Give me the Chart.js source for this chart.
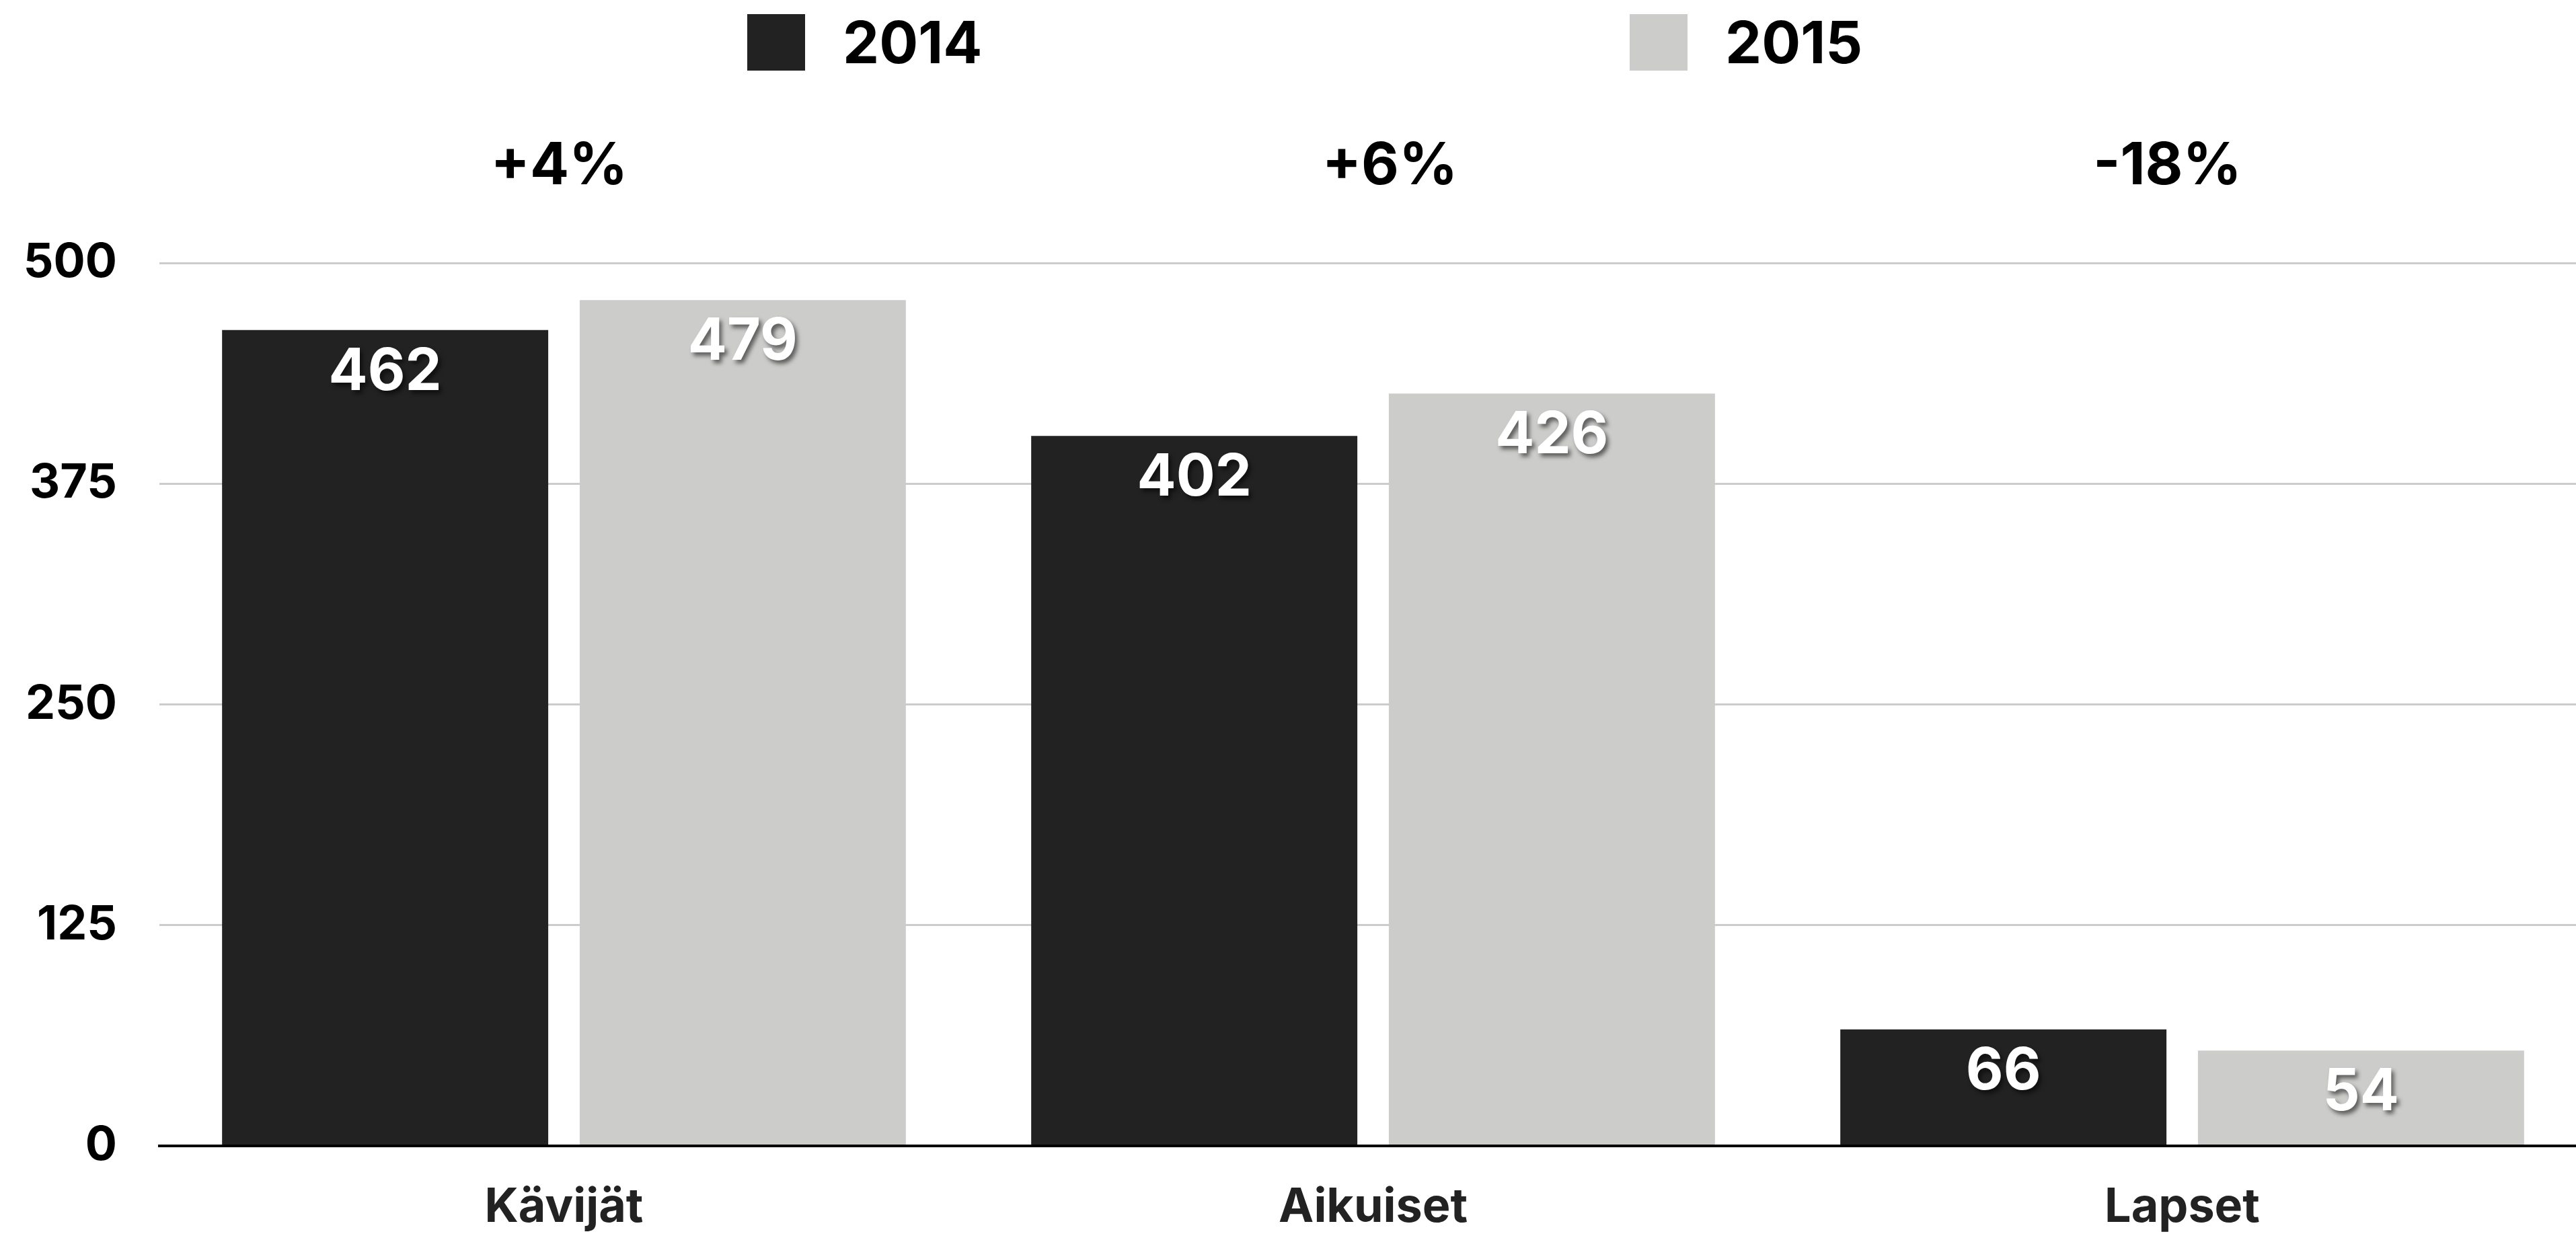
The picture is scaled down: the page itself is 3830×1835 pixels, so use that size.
<!DOCTYPE html>
<html><head><meta charset="utf-8">
<script src="https://cdn.jsdelivr.net/npm/chart.js@4/dist/chart.umd.min.js"></script>
<style>html,body{margin:0;padding:0;background:#fff;overflow:hidden;width:3830px;height:1835px;}canvas{display:block;}</style>
</head><body>
<canvas id="c" width="3846" height="1835"></canvas>
<script>
const categories = ['Kävijät', 'Aikuiset', 'Lapset'];
const seriesNames = ['2014', '2015'];
const values2014 = [462, 402, 66];
const values2015 = [479, 426, 54];
const changeLabels = ['+4%', '+6%', '-18%'];
const yTickValues = [0, 125, 250, 375, 500];

const FONT = 'Inter, "Noto Sans", sans-serif';
const colors = ['#222222', '#cccccb'];
const changeLabelShift = [-7, 25, -22];

const overlayPlugin = {
  id: 'overlay',
  afterDatasetsDraw(chart) {
    const ctx = chart.ctx;
    chart.data.datasets.forEach((ds, di) => {
      const meta = chart.getDatasetMeta(di);
      meta.data.forEach((el, i) => {
        ctx.save();
        ctx.font = '700 86px ' + FONT;
        ctx.fillStyle = '#ffffff';
        ctx.textAlign = 'center';
        ctx.textBaseline = 'alphabetic';
        ctx.shadowColor = 'rgba(0,0,0,0.55)';
        ctx.shadowOffsetX = 4;
        ctx.shadowOffsetY = 5;
        ctx.shadowBlur = 6;
        ctx.fillText(String(ds.data[i]), el.x, el.y + 89);
        ctx.restore();
      });
    });
    const xs = chart.scales.x;
    ctx.save();
    ctx.font = '700 86px ' + FONT;
    ctx.fillStyle = '#000000';
    ctx.textAlign = 'center';
    ctx.textBaseline = 'alphabetic';
    changeLabels.forEach((t, i) => {
      ctx.fillText(t, xs.getPixelForValue(i) + changeLabelShift[i], 274);
    });
    ctx.restore();
    const legendX = [1111, 2423];
    ctx.save();
    chart.data.datasets.forEach((ds, di) => {
      ctx.fillStyle = ds.backgroundColor;
      ctx.fillRect(legendX[di], 21, 86, 84);
      ctx.font = '700 86px ' + FONT;
      ctx.fillStyle = '#000000';
      ctx.textAlign = 'left';
      ctx.textBaseline = 'alphabetic';
      ctx.fillText(ds.label, legendX[di] + 142, 94);
    });
    ctx.restore();
  }
};

new Chart(document.getElementById('c'), {
  type: 'bar',
  data: {
    labels: categories,
    datasets: [
      { label: seriesNames[0], data: values2014, backgroundColor: colors[0] },
      { label: seriesNames[1], data: values2015, backgroundColor: colors[1] }
    ]
  },
  options: {
    responsive: false,
    devicePixelRatio: 1,
    animation: false,
    layout: { padding: { top: 391, left: 0, right: 0, bottom: 0 } },
    datasets: { bar: { categoryPercentage: 0.884, barPercentage: 0.912 } },
    plugins: { legend: { display: false }, tooltip: { enabled: false } },
    scales: {
      x: {
        grid: { display: false, drawTicks: false },
        border: { display: true, color: '#000000', width: 4 },
        ticks: { font: { family: FONT, size: 70, weight: '700' }, color: '#222222', padding: 50 },
        afterFit(s) { s.height = 131; }
      },
      y: {
        min: 0, max: 500,
        border: { display: false },
        grid: {
          drawTicks: false,
          color: (c) => c.tick && c.tick.value === 0 ? '#000000' : '#cccccc',
          lineWidth: (c) => c.tick && c.tick.value === 0 ? 4 : 3
        },
        ticks: { stepSize: 125, font: { family: FONT, size: 70, weight: '700' }, color: '#000000', padding: 63 },
        afterBuildTicks(s) { s.ticks = yTickValues.map(v => ({ value: v })); },
        afterFit(s) { s.width = 237; }
      }
    }
  },
  plugins: [overlayPlugin]
});
</script>
</body></html>
